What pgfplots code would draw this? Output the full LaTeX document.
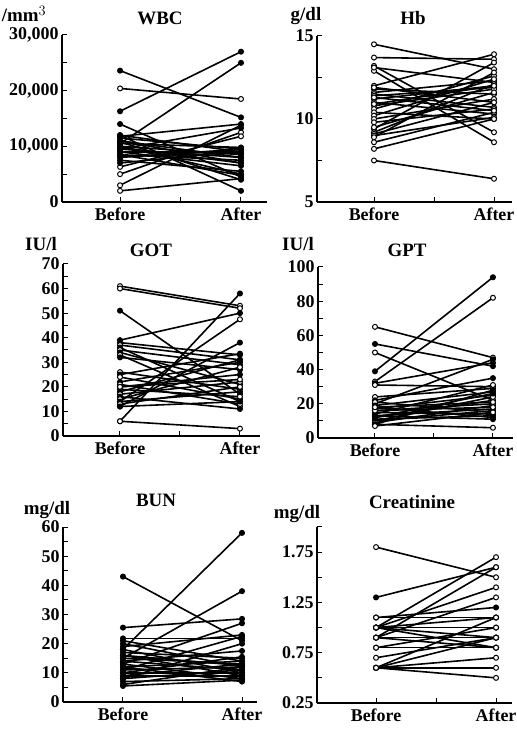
\documentclass[border=0pt]{standalone}
\usepackage{fontspec}
\setmainfont{Liberation Serif}
\usepackage{pgfplots}
\pgfplotsset{compat=1.18}

% open and filled markers, one line per patient
\pgfplotsset{
  pl/.style={black, line width=1.6bp, mark=*, mark size=2.5bp,
    mark options={fill=white, line width=1bp, solid}},
  plf/.style={pl, mark options={fill=black, line width=1bp, solid}},
  panel/.style={
    scale only axis, anchor=south west, clip=false,
    axis x line=bottom, axis y line=left,
    axis line style={-, line width=1.3bp},
    xtick={1,1.5,2}, xticklabels={Before,,After},
    scaled y ticks=false,
    tick align=inside, major tick length=5bp, minor tick length=5bp,
    tick style={black, line width=1bp},
    tick label style={font=\bfseries\fontsize{18}{20}\selectfont},
    xticklabel style={yshift=-2bp},
  },
}
\newcommand\po[2]{\addplot[pl] coordinates {(1,#1) (2,#2)};}
\newcommand\pf[2]{\addplot[plf] coordinates {(1,#1) (2,#2)};}

\begin{document}
\begin{tikzpicture}
\path[use as bounding box] (0,0) rectangle (517bp,729bp);
\tikzset{lab/.style={font=\bfseries\fontsize{19}{21}\selectfont, inner sep=0pt}}

% WBC
\begin{axis}[panel, at={(62bp,527bp)}, width=205bp, height=167bp,
  xmin=0.52, xmax=2.215, ymin=0, ymax=30000,
  ytick={0,10000,20000,30000}, yticklabels={0,{10,000},{20,000},{30,000}},
  minor ytick={5000,15000,25000}]
\pf{23600}{15200} \po{20400}{18500} \pf{16300}{27000} \pf{14000}{4500}
\pf{10500}{25000} \po{2000}{4200} \po{3000}{13800} \po{5000}{12500}
\po{6300}{11800} \pf{12000}{2000} \pf{11500}{9500} \pf{11000}{8000}
\pf{10000}{5000} \pf{9500}{13300} \pf{9000}{9000} \pf{8500}{7500}
\pf{8000}{9500} \pf{7500}{5500} \pf{12000}{9000} \pf{11000}{7000}
\pf{10000}{8500} \pf{9000}{6500} \pf{10500}{9800} \pf{9500}{8000}
\pf{8500}{4800} \pf{7000}{9200} \pf{11800}{14000} \pf{10800}{4000}
\pf{9800}{7000} \pf{8200}{8800}
\end{axis}

% Hb
\begin{axis}[panel, at={(317bp,527bp)}, width=195bp, height=166bp,
  xmin=0.525, xmax=2.15, ymin=5, ymax=15,
  ytick={5,10,15}, yticklabels={5,10,15}, minor ytick={7.5,12.5}]
\po{14.5}{13.0} \po{13.7}{13.6} \po{13.2}{9.2} \po{12.9}{8.6}
\po{13.1}{12.2} \po{12.0}{13.9} \po{11.8}{11.5} \po{11.6}{12.3}
\po{11.5}{10.7} \po{11.4}{11.9} \po{11.2}{12.0} \po{11.0}{10.3}
\po{10.8}{11.8} \po{10.6}{12.6} \po{10.4}{10.0} \po{10.2}{12.4}
\po{10.0}{11.2} \po{9.8}{10.6} \po{9.4}{13.4} \po{9.2}{12.1}
\po{9.1}{11.0} \po{9.0}{10.1} \po{8.9}{12.8} \po{8.6}{10.4}
\po{8.2}{10.0} \po{7.5}{6.4} \po{11.9}{11.0} \po{11.3}{10.5}
\po{10.9}{12.0} \po{9.5}{11.6}
\end{axis}

% GOT
\begin{axis}[panel, at={(63bp,293bp)}, width=197bp, height=172bp,
  xmin=0.525, xmax=2.167, ymin=0, ymax=70,
  ytick={0,10,...,70}, yticklabels={0,10,20,30,40,50,60,70},
  minor ytick={5,15,...,65}]
\po{61}{53} \po{60}{52} \pf{51}{17} \pf{6}{58} \po{6}{3}
\pf{12}{38} \pf{39}{50} \po{14}{47.5} \pf{38}{33} \po{37}{31}
\pf{36}{14} \po{35}{29} \pf{34}{21} \po{33}{12} \pf{32}{27}
\po{26}{19} \pf{25}{33.5} \po{24}{15} \pf{22}{30} \po{21}{13}
\pf{20}{25} \po{19}{16} \pf{18}{31} \po{17}{22} \pf{16}{11}
\po{15}{28} \pf{14}{18} \po{13}{20} \pf{12}{14} \po{20}{23}
\end{axis}

% GPT
\begin{axis}[panel, at={(318bp,291bp)}, width=195bp, height=171bp,
  xmin=0.517, xmax=2.17, ymin=0, ymax=100,
  ytick={0,20,...,100}, yticklabels={0,20,40,60,80,100},
  minor ytick={10,30,...,90}]
\po{65}{47} \pf{55}{42} \po{50}{22} \pf{39}{94} \po{33}{82}
\pf{32}{44} \po{31}{30} \pf{20}{46} \po{24}{29} \pf{22}{35}
\po{21}{15} \pf{19}{27} \po{18}{12} \pf{17}{25} \po{16}{20}
\pf{15}{14} \po{14}{31} \pf{13}{17} \po{12}{22} \pf{11}{13}
\po{10}{24} \pf{10}{16} \po{9}{19} \po{8}{6} \pf{8}{28}
\po{7}{15} \pf{12}{26} \po{16}{18} \pf{13}{11} \po{18}{21}
\end{axis}

% BUN
\begin{axis}[panel, at={(63bp,27bp)}, width=194bp, height=175bp,
  xmin=0.496, xmax=2.126, ymin=0, ymax=60,
  ytick={0,10,...,60}, yticklabels={0,10,20,30,40,50,60},
  minor ytick={5,15,...,55}]
\pf{43}{21} \pf{25.5}{28.5} \pf{21.8}{21.8} \pf{18}{58} \pf{15}{38}
\pf{13}{27} \pf{21}{14} \pf{20}{12} \pf{19}{23} \pf{18}{10}
\pf{17}{15} \pf{16}{9} \pf{15}{13} \pf{14}{11} \pf{14}{17.5}
\pf{13}{8} \pf{12}{14} \pf{11}{12} \pf{11}{22.5} \pf{10}{10}
\pf{10}{15.5} \pf{9}{9} \pf{9}{13} \pf{8}{11} \pf{8}{20}
\pf{7}{8} \pf{6}{12} \pf{5.5}{7.5} \pf{12}{7} \pf{16}{12.5}
\end{axis}

% Creatinine
\begin{axis}[panel, at={(317bp,26bp)}, width=195bp, height=176bp,
  xmin=0.508, xmax=2.133, ymin=0.25, ymax=2.0,
  ytick={0.25,0.75,1.25,1.75}, yticklabels={0.25,0.75,1.25,1.75},
  minor ytick={0.5,1,1.5,2}]
\po{1.8}{1.5} \pf{1.3}{1.6} \pf{1.1}{1.2} \po{1.1}{1.1} \po{1.0}{1.7}
\po{1.0}{1.4} \po{1.0}{1.0} \po{1.0}{0.8} \pf{1.0}{1.1} \po{0.9}{1.6}
\po{0.9}{1.3} \po{0.9}{0.9} \po{0.9}{0.8} \po{0.8}{0.8} \po{0.8}{1.0}
\po{0.7}{0.9} \po{0.6}{1.1} \po{0.6}{0.7} \po{0.6}{0.6} \po{0.6}{0.5}
\po{0.6}{0.9} \po{1.0}{0.9}
\end{axis}

% titles and units
\node[lab] at (160bp,711bp) {WBC};
\node[lab] at (24bp,715bp) {/mm$^{3}$};
\node[lab] at (413bp,711bp) {Hb};
\node[lab] at (306bp,713bp) {g/dl};
\node[lab] at (151bp,479bp) {GOT};
\node[lab] at (41bp,485bp) {IU/l};
\node[lab] at (407bp,479bp) {GPT};
\node[lab] at (298bp,485bp) {IU/l};
\node[lab] at (156bp,229bp) {BUN};
\node[lab] at (47bp,219bp) {mg/dl};
\node[lab] at (412bp,227bp) {Creatinine};
\node[lab] at (297bp,215bp) {mg/dl};
\end{tikzpicture}
\end{document}
